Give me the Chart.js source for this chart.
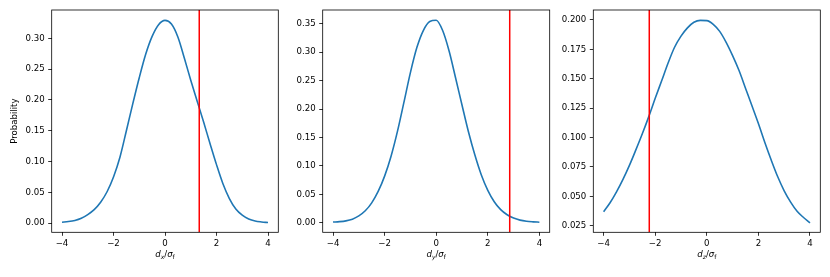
<!DOCTYPE html>
<html>
<head>
<meta charset="utf-8">
<script src="https://cdn.jsdelivr.net/npm/chart.js@4.4.0/dist/chart.umd.min.js"></script>
<style>
  html, body { margin: 0; padding: 0; background: #fff; }
  #figure { position: relative; width: 830px; height: 277px; }
  #figure canvas { position: absolute; top: 0; }
</style>
</head>
<body>
<div id="figure">
  <canvas id="c0" width="290" height="277" style="left:0px"></canvas>
  <canvas id="c1" width="268" height="277" style="left:290px"></canvas>
  <canvas id="c2" width="272" height="277" style="left:558px"></canvas>
</div>
<script>
// --- data ---
const xValues = [-4, -3.75, -3.5, -3.25, -3, -2.75, -2.5, -2.25, -2, -1.75, -1.5, -1.25, -1, -0.75, -0.5, -0.25,
                 0, 0.25, 0.5, 0.75, 1, 1.25, 1.5, 1.75, 2, 2.25, 2.5, 2.75, 3, 3.25, 3.5, 3.75, 4];

const probDx = [0.0015, 0.0026, 0.0045, 0.008, 0.014, 0.022, 0.034, 0.051, 0.075, 0.107, 0.150, 0.194, 0.236, 0.274, 0.303, 0.322,
                0.329, 0.323, 0.302, 0.268, 0.232, 0.198, 0.164, 0.129, 0.095, 0.064, 0.040, 0.023, 0.013, 0.0068, 0.0035, 0.002, 0.001];

const probDy = [0.0012, 0.0019, 0.0033, 0.0062, 0.012, 0.021, 0.035, 0.055, 0.082, 0.117, 0.161, 0.212, 0.264, 0.308, 0.338, 0.354,
                0.356, 0.338, 0.302, 0.255, 0.207, 0.160, 0.119, 0.084, 0.057, 0.037, 0.023, 0.014, 0.0082, 0.0046, 0.0026, 0.0016, 0.001];

const probDz = [0.0369, 0.0445, 0.0538, 0.0644, 0.0763, 0.0895, 0.1032, 0.1178, 0.1334, 0.1483, 0.1634, 0.1768, 0.1863, 0.1933, 0.1981, 0.1997,
                0.1995, 0.1963, 0.1903, 0.1810, 0.1697, 0.1570, 0.1420, 0.1270, 0.1119, 0.0958, 0.0807, 0.0666, 0.0547, 0.0451, 0.0373, 0.0320, 0.0275];

// observed value (red line) for each component
const thresholds = [1.33, 2.85, -2.23];

const xTicks = [-4, -2, 0, 2, 4];
const yTicksDx = [0, 0.05, 0.10, 0.15, 0.20, 0.25, 0.30];
const yTicksDy = [0, 0.05, 0.10, 0.15, 0.20, 0.25, 0.30, 0.35];
const yTicksDz = [0.025, 0.05, 0.075, 0.10, 0.125, 0.15, 0.175, 0.20];

// --- layout ---
const FONT = 'DejaVu Sans';
const FONT_SIZE = 8.6;
const PLOT_TOP = 10;
const PLOT_BOTTOM = 232.3;
const FIG_H = 277;

const panels = [
  { id: 'c0', left: 0,   width: 290, plotLeft: 51.7,  plotRight: 278.3, series: probDx, marker: thresholds[0],
    yTicks: yTicksDx, yMin: -0.0148, yMax: 0.3459, decimals: 2, yTitle: 'Probability', sub: 'x' },
  { id: 'c1', left: 290, width: 268, plotLeft: 322.7, plotRight: 549.7, series: probDy, marker: thresholds[1],
    yTicks: yTicksDy, yMin: -0.0168, yMax: 0.3741, decimals: 2, yTitle: '', sub: 'y' },
  { id: 'c2', left: 558, width: 272, plotLeft: 593.3, plotRight: 820.3, series: probDz, marker: thresholds[2],
    yTicks: yTicksDz, yMin: 0.0194, yMax: 0.2085, decimals: 3, yTitle: '', sub: 'z' },
];

// axes box on all four sides, like matplotlib spines
const frame = {
  id: 'frame',
  afterDatasetsDraw(chart) {
    const { ctx, chartArea: a } = chart;
    ctx.save();
    ctx.strokeStyle = '#000';
    ctx.lineWidth = 0.8;
    ctx.strokeRect(a.left, a.top, a.right - a.left, a.bottom - a.top);
    ctx.restore();
  }
};

// x axis label with subscripts: d_x / sigma_f
const xLabel = {
  id: 'xLabel',
  afterDraw(chart, args, opts) {
    const { ctx, chartArea: a } = chart;
    const parts = [
      { t: 'd', it: true, s: FONT_SIZE, dy: 0 },
      { t: opts.sub, it: true, s: FONT_SIZE * 0.7, dy: 1.8 },
      { t: '/', it: false, s: FONT_SIZE, dy: 0 },
      { t: '\u03c3', it: true, s: FONT_SIZE, dy: 0 },
      { t: 'f', it: false, s: FONT_SIZE * 0.7, dy: 1.8 },
    ];
    ctx.save();
    ctx.fillStyle = '#000';
    ctx.textBaseline = 'alphabetic';
    ctx.textAlign = 'left';
    let total = 0;
    parts.forEach(p => {
      ctx.font = (p.it ? 'italic ' : '') + p.s + 'px "' + FONT + '"';
      p.w = ctx.measureText(p.t).width;
      total += p.w;
    });
    let x = (a.left + a.right) / 2 - total / 2;
    const base = a.bottom + 24.8;
    parts.forEach(p => {
      ctx.font = (p.it ? 'italic ' : '') + p.s + 'px "' + FONT + '"';
      ctx.fillText(p.t, x, base + p.dy);
      x += p.w;
    });
    ctx.restore();
  }
};

function tickGrid() {
  return { display: true, drawOnChartArea: false, drawTicks: true, tickLength: 3.5, tickWidth: 0.8, tickColor: '#000' };
}

panels.forEach(p => {
  new Chart(document.getElementById(p.id), {
    type: 'line',
    data: {
      datasets: [
        {
          data: [{ x: p.marker, y: p.yMin }, { x: p.marker, y: p.yMax }],
          borderColor: '#ff0000',
          borderWidth: 1.5,
          pointRadius: 0,
          order: 0
        },
        {
          data: xValues.map((x, i) => ({ x: x, y: p.series[i] })),
          borderColor: '#1f77b4',
          borderWidth: 1.6,
          pointRadius: 0,
          cubicInterpolationMode: 'monotone',
          order: 1
        }
      ]
    },
    options: {
      responsive: false,
      animation: false,
      events: [],
      layout: { padding: { left: 0, right: p.left + p.width - p.plotRight, top: PLOT_TOP, bottom: 0 } },
      plugins: {
        legend: { display: false },
        tooltip: { enabled: false },
        xLabel: { sub: p.sub }
      },
      scales: {
        x: {
          type: 'linear',
          min: -4.4,
          max: 4.4,
          bounds: 'data',
          afterBuildTicks: s => { s.ticks = xTicks.map(v => ({ value: v })); },
          afterFit: s => { s.height = FIG_H - PLOT_BOTTOM; },
          grid: tickGrid(),
          border: { display: false },
          ticks: {
            color: '#000',
            font: { family: FONT, size: FONT_SIZE },
            padding: 2.5,
            maxRotation: 0,
            autoSkip: false,
            callback: v => (v < 0 ? '\u2212' + Math.abs(v) : String(v))
          }
        },
        y: {
          type: 'linear',
          min: p.yMin,
          max: p.yMax,
          bounds: 'data',
          afterBuildTicks: s => { s.ticks = p.yTicks.map(v => ({ value: v })); },
          afterFit: s => { s.width = p.plotLeft - p.left; },
          grid: tickGrid(),
          border: { display: false },
          ticks: {
            color: '#000',
            font: { family: FONT, size: FONT_SIZE },
            padding: 3.5,
            autoSkip: false,
            callback: v => v.toFixed(p.decimals)
          },
          title: {
            display: p.yTitle !== '',
            text: p.yTitle,
            color: '#000',
            font: { family: FONT, size: FONT_SIZE },
            padding: { top: 9.9, bottom: 0 }
          }
        }
      }
    },
    plugins: [frame, xLabel]
  });
});
</script>
</body>
</html>
